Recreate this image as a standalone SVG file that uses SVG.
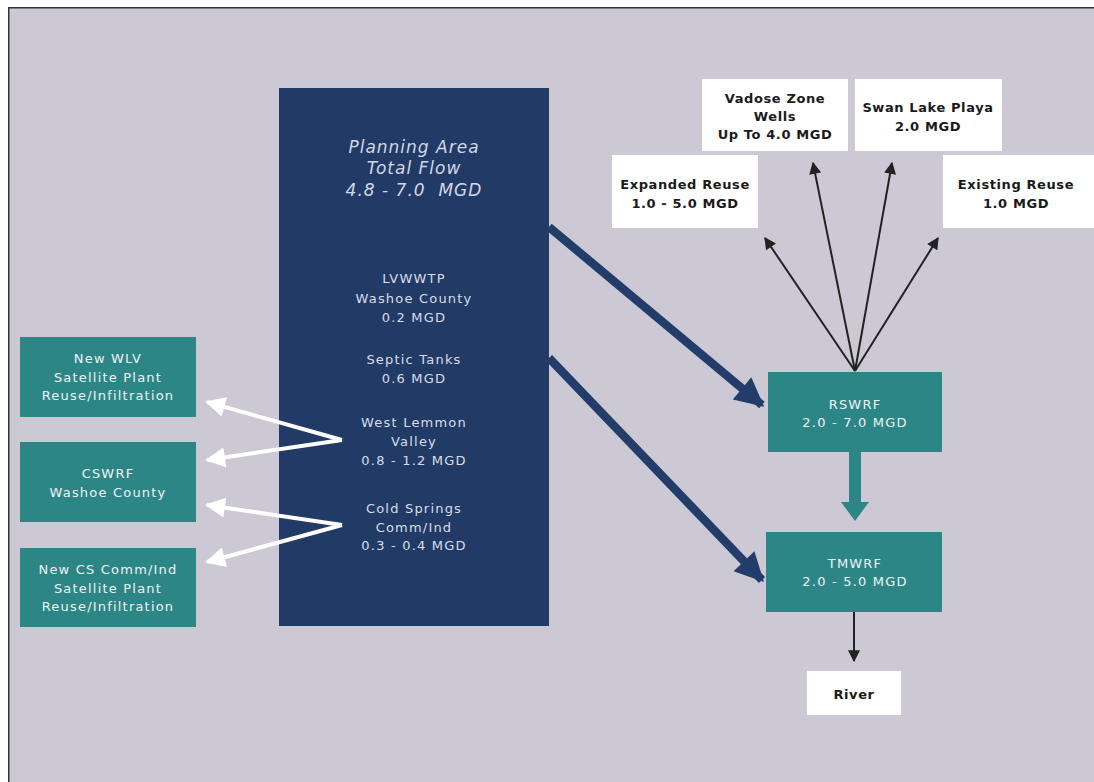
<svg xmlns="http://www.w3.org/2000/svg" width="1094" height="782" viewBox="0 0 1094 782">
<style>
text{font-family:"DejaVu Sans","Verdana",sans-serif;text-anchor:middle}
.navytxt{fill:#d9dde8;font-size:13px;letter-spacing:1.2px}
.title{fill:#d3d7e3;font-size:17px;font-style:italic;letter-spacing:1px}
.teal{fill:#2d8686}
.tealtxt{fill:#eef3f3;font-size:13px;letter-spacing:1.2px}
.wbox{fill:#ffffff}
.wtxt{fill:#1a1a1a;font-size:13px;font-weight:bold;letter-spacing:0.6px}
.navyline{stroke:#233d6b;stroke-width:8.5;fill:none}
.blk{stroke:#222222;stroke-width:2;fill:none}
.wht{stroke:#ffffff;stroke-width:4;fill:none}
</style>
<defs>
<marker id="mNavy" viewBox="0 0 10 10" refX="9" refY="5" markerWidth="3.6" markerHeight="3.4" orient="auto" markerUnits="strokeWidth">
<path d="M0,0 L10,5 L0,10 Z" fill="#233d6b"/>
</marker>
<marker id="mBlk" viewBox="0 0 10 10" refX="9" refY="5" markerWidth="8" markerHeight="6" orient="auto" markerUnits="strokeWidth">
<path d="M0,0 L10,5 L0,10 Z" fill="#222222"/>
</marker>
<marker id="mWht" viewBox="0 0 10 10" refX="9" refY="5" markerWidth="5.5" markerHeight="5" orient="auto" markerUnits="strokeWidth">
<path d="M0,0 L10,5 L0,10 Z" fill="#ffffff"/>
</marker>
</defs>
<rect x="0" y="0" width="1094" height="782" fill="#ffffff"/>
<rect x="8" y="7" width="1086" height="775" fill="#cdc9d4"/>
<path d="M8.75,782 L8.75,7.75 L1094,7.75" stroke="#333333" stroke-width="1.5" fill="none"/>

<g id="planning-area">
<rect x="279" y="88" width="270" height="538" fill="#213a66"/>
<text class="title" x="414" y="153">Planning Area</text>
<text class="title" x="414" y="174">Total Flow</text>
<text class="title" x="414" y="196">4.8 - 7.0&#160; MGD</text>
<text class="navytxt" x="414" y="283">LVWWTP</text>
<text class="navytxt" x="414" y="303">Washoe County</text>
<text class="navytxt" x="414" y="322">0.2 MGD</text>
<text class="navytxt" x="414" y="364">Septic Tanks</text>
<text class="navytxt" x="414" y="383">0.6 MGD</text>
<text class="navytxt" x="414" y="427">West Lemmon</text>
<text class="navytxt" x="414" y="446">Valley</text>
<text class="navytxt" x="414" y="465">0.8 - 1.2 MGD</text>
<text class="navytxt" x="414" y="513">Cold Springs</text>
<text class="navytxt" x="414" y="532">Comm/Ind</text>
<text class="navytxt" x="414" y="550">0.3 - 0.4 MGD</text>
</g>

<g id="new-wlv">
<rect class="teal" x="20" y="337" width="176" height="80"/>
<text class="tealtxt" x="108" y="363">New WLV</text>
<text class="tealtxt" x="108" y="382">Satellite Plant</text>
<text class="tealtxt" x="108" y="400">Reuse/Infiltration</text>
</g>
<g id="cswrf">
<rect class="teal" x="20" y="442" width="176" height="80"/>
<text class="tealtxt" x="108" y="478">CSWRF</text>
<text class="tealtxt" x="108" y="497">Washoe County</text>
</g>
<g id="new-cs">
<rect class="teal" x="20" y="548" width="176" height="79"/>
<text class="tealtxt" x="108" y="574">New CS Comm/Ind</text>
<text class="tealtxt" x="108" y="593">Satellite Plant</text>
<text class="tealtxt" x="108" y="611">Reuse/Infiltration</text>
</g>

<g id="rswrf">
<rect class="teal" x="768" y="372" width="174" height="80"/>
<text class="tealtxt" x="855" y="409">RSWRF</text>
<text class="tealtxt" x="855" y="427">2.0 - 7.0 MGD</text>
</g>
<g id="tmwrf">
<rect class="teal" x="766" y="532" width="176" height="80"/>
<text class="tealtxt" x="855" y="568">TMWRF</text>
<text class="tealtxt" x="855" y="586">2.0 - 5.0 MGD</text>
</g>
<g id="river">
<rect class="wbox" x="807" y="671" width="94" height="44"/>
<text class="wtxt" x="854" y="699">River</text>
</g>

<g id="expanded-reuse">
<rect class="wbox" x="612" y="155" width="146" height="73"/>
<text class="wtxt" x="685" y="189">Expanded Reuse</text>
<text class="wtxt" x="685" y="208">1.0 - 5.0 MGD</text>
</g>
<g id="vadose">
<rect class="wbox" x="702" y="79" width="146" height="72"/>
<text class="wtxt" x="775" y="103">Vadose Zone</text>
<text class="wtxt" x="775" y="121">Wells</text>
<text class="wtxt" x="775" y="139">Up To 4.0 MGD</text>
</g>
<g id="swan-lake">
<rect class="wbox" x="855" y="79" width="147" height="72"/>
<text class="wtxt" x="928" y="112">Swan Lake Playa</text>
<text class="wtxt" x="928" y="131">2.0 MGD</text>
</g>
<g id="existing-reuse">
<rect class="wbox" x="943" y="155" width="151" height="73"/>
<text class="wtxt" x="1016" y="189">Existing Reuse</text>
<text class="wtxt" x="1016" y="208">1.0 MGD</text>
</g>

<g id="connectors">
<line class="navyline" x1="549" y1="227" x2="762" y2="405" marker-end="url(#mNavy)"/>
<line class="navyline" x1="549" y1="358" x2="762" y2="580" marker-end="url(#mNavy)"/>
<polygon points="849,452 861,452 861,502 869,502 855,521 841,502 849,502" fill="#2d8686"/>
<line class="blk" x1="855" y1="371" x2="765" y2="238" marker-end="url(#mBlk)"/>
<line class="blk" x1="855" y1="371" x2="813" y2="163" marker-end="url(#mBlk)"/>
<line class="blk" x1="855" y1="371" x2="892" y2="163" marker-end="url(#mBlk)"/>
<line class="blk" x1="855" y1="371" x2="938" y2="238" marker-end="url(#mBlk)"/>
<line class="blk" x1="854" y1="612" x2="854" y2="661" stroke-width="2.5" marker-end="url(#mBlk)"/>
<line class="wht" x1="342" y1="440" x2="207" y2="402" marker-end="url(#mWht)"/>
<line class="wht" x1="342" y1="440" x2="207" y2="460" marker-end="url(#mWht)"/>
<line class="wht" x1="342" y1="525" x2="207" y2="505" marker-end="url(#mWht)"/>
<line class="wht" x1="342" y1="525" x2="207" y2="562" marker-end="url(#mWht)"/>
</g>
</svg>
